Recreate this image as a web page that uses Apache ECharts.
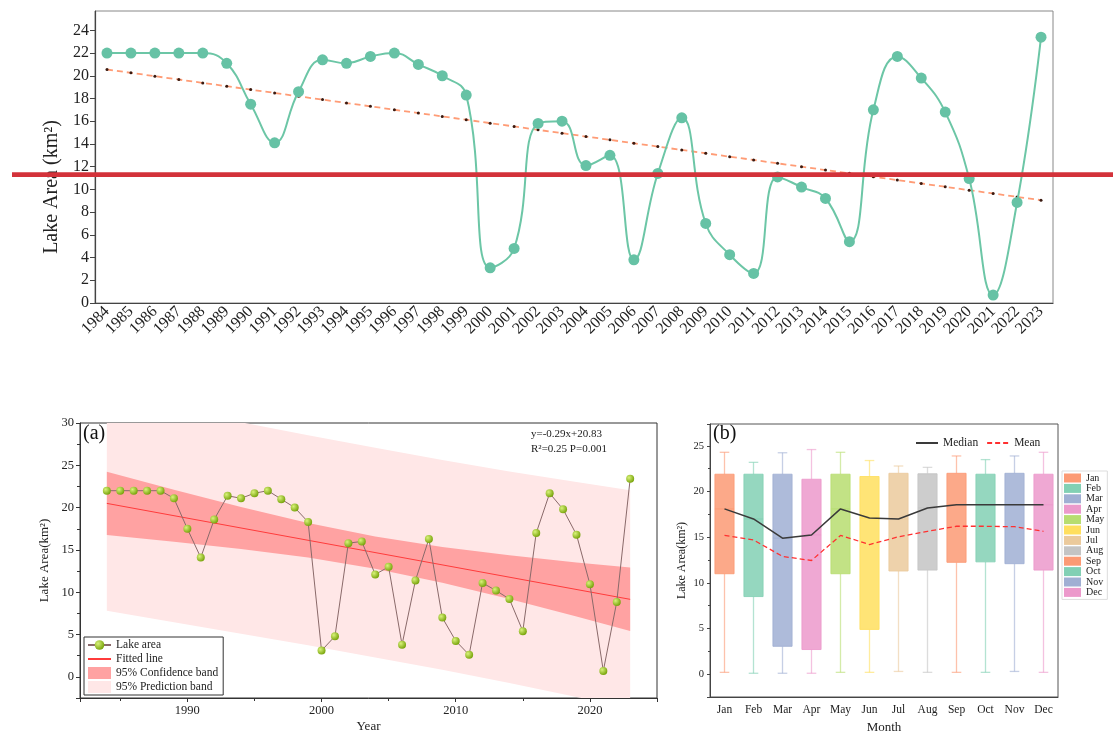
<!DOCTYPE html>
<html><head><meta charset="utf-8">
<script src="https://cdn.jsdelivr.net/npm/echarts@6/dist/echarts.min.js"></script>
<style>html,body{margin:0;padding:0;background:#fff}#c{width:1113px;height:735px}</style>
</head><body><div id="c"></div>
<script>
const years = ['1984','1985','1986','1987','1988','1989','1990','1991','1992','1993','1994','1995','1996','1997','1998','1999','2000','2001','2002','2003','2004','2005','2006','2007','2008','2009','2010','2011','2012','2013','2014','2015','2016','2017','2018','2019','2020','2021','2022','2023'];
const area = [22.0,22.0,22.0,22.0,22.0,21.1,17.5,14.1,18.6,21.4,21.1,21.7,22.0,21.0,20.0,18.3,3.1,4.8,15.8,16.0,12.1,13.0,3.8,11.4,16.3,7.0,4.25,2.6,11.1,10.2,9.2,5.4,17.0,21.7,19.8,16.8,10.95,0.7,8.85,23.4];
const trend = [20.55,20.26,19.96,19.67,19.37,19.08,18.78,18.49,18.19,17.90,17.60,17.31,17.01,16.72,16.42,16.13,15.83,15.54,15.24,14.95,14.65,14.36,14.06,13.77,13.47,13.18,12.88,12.59,12.29,12.00,11.70,11.41,11.11,10.82,10.52,10.23,9.93,9.64,9.34,9.05];
const fitYears = [1984, 2023];
const fitValues = [20.5, 9.16];
const bandYears = [1984,1989,1994,1999,2004,2009,2014,2019,2023];
const confUpper = [24.25,22.12,20.07,18.19,16.59,15.35,14.37,13.52,12.91];
const confLower = [16.75,15.98,15.11,14.09,12.77,11.11,9.19,7.12,5.41];
const predUpper = [33.2,31.65,30.09,28.54,27.08,25.63,24.28,23.02,22.06];
const predLower = [7.8,6.45,5.09,3.74,2.28,0.83,-0.72,-2.38,-3.74];
const months = ['Jan','Feb','Mar','Apr','May','Jun','Jul','Aug','Sep','Oct','Nov','Dec'];
const boxMin = [0.2,0.1,0.1,0.1,0.2,0.2,0.3,0.2,0.2,0.2,0.3,0.2];
const boxQ1 = [11.0,8.5,3.05,2.7,11.0,4.9,11.3,11.4,12.25,12.3,12.1,11.4];
const boxMedian = [18.1,17.0,14.9,15.25,18.1,17.1,17.0,18.2,18.55,18.55,18.55,18.55];
const boxQ3 = [21.9,21.9,21.9,21.35,21.9,21.65,22.0,21.95,22.0,21.9,22.0,21.9];
const boxMax = [24.3,23.2,24.25,24.6,24.3,23.4,22.8,22.65,23.9,23.5,23.9,24.3];
const meanVals = [15.2,14.7,12.9,12.45,15.2,14.2,15.05,15.65,16.2,16.2,16.15,15.65];
const boxColors = ['#fc9a74','#82d0b4','#a0afd3','#ec99cb','#b7dd70','#ffdf5e','#ebca9c','#c4c4c4','#fc9a74','#82d0b4','#a0afd3','#ec99cb'];

const SERIF = '"Liberation Serif","Times New Roman",serif';
const chart = echarts.init(document.getElementById('c'), null, {renderer:'canvas'});

function bandRenderer(upper, lower){
  return function(params, api){
    if (params.dataIndex !== 0) return;
    const pts = [];
    for (let k=0;k<bandYears.length;k++) pts.push(api.coord([bandYears[k], upper[k]]));
    for (let k=bandYears.length-1;k>=0;k--) pts.push(api.coord([bandYears[k], lower[k]]));
    return {type:'polygon', shape:{points:pts}, style:{fill: api.visual('color')}};
  };
}
function boxRenderer(params, api){
  const i = api.value(0);
  const lo = api.coord([i, api.value(1)]);
  const q1 = api.coord([i, api.value(2)]);
  const md = api.coord([i, api.value(3)]);
  const q3 = api.coord([i, api.value(4)]);
  const hi = api.coord([i, api.value(5)]);
  const band = api.size([1,0])[0];
  const bw = band*0.66, cw = band*0.33;
  const x = lo[0];
  const c = api.visual('color');
  const ws = {stroke:c, lineWidth:1.3, opacity:0.6};
  return {type:'group', children:[
    {type:'line', shape:{x1:x,y1:hi[1],x2:x,y2:q3[1]}, style:ws},
    {type:'line', shape:{x1:x,y1:q1[1],x2:x,y2:lo[1]}, style:ws},
    {type:'line', shape:{x1:x-cw/2,y1:hi[1],x2:x+cw/2,y2:hi[1]}, style:ws},
    {type:'line', shape:{x1:x-cw/2,y1:lo[1],x2:x+cw/2,y2:lo[1]}, style:ws},
    {type:'rect', shape:{x:x-bw/2,y:q3[1],width:bw,height:q1[1]-q3[1]}, style:{fill:c, opacity:0.85, stroke:c, lineWidth:1}},
    {type:'line', shape:{x1:x-bw/2,y1:md[1],x2:x+bw/2,y2:md[1]}, style:{stroke:c, lineWidth:1, opacity:0.9}}
  ]};
}

const axisTxt = {fontFamily:SERIF, color:'#222'};
const monthSeries = months.map((m,i)=>({
  type:'custom', name:m, xAxisIndex:2, yAxisIndex:2,
  itemStyle:{color:boxColors[i]},
  data:[[i, boxMin[i], boxQ1[i], boxMedian[i], boxQ3[i], boxMax[i]]],
  encode:{x:0, y:[1,2,3,4,5]},
  renderItem: boxRenderer, z:2
}));
const hideSym = {opacity:0};

const option = {
  animation:false,
  backgroundColor:'#fff',
  grid:[
    {left:95, right:60, top:11, bottom:432, show:true, borderColor:'#888', borderWidth:1},
    {left:80, right:456, top:423, bottom:37, show:true, borderColor:'#333', borderWidth:1},
    {left:710, right:55, top:424, bottom:34, show:true, borderColor:'#555', borderWidth:1}
  ],
  xAxis:[
    {gridIndex:0, type:'category', data:years, boundaryGap:true,
     axisLine:{lineStyle:{color:'#444', width:1.2}},
     axisTick:{alignWithLabel:true, length:5, lineStyle:{color:'#444'}},
     axisLabel:{...axisTxt, fontSize:16, rotate:45, interval:0, margin:6}},
    {gridIndex:1, type:'value', min:1982, max:2025, splitNumber:5,
     name:'Year', nameLocation:'middle', nameGap:22, nameTextStyle:{...axisTxt, fontSize:13},
     axisLine:{onZero:false, lineStyle:{color:'#333'}}, axisTick:{length:4, lineStyle:{color:'#333'}},
     minorTick:{show:true, splitNumber:2, length:3, lineStyle:{color:'#333'}},
     splitLine:{show:false},
     axisLabel:{...axisTxt, fontSize:12.5, showMinLabel:false, showMaxLabel:false, margin:6, formatter:v=>String(v)}},
    {gridIndex:2, type:'category', data:months, boundaryGap:true,
     name:'Month', nameLocation:'middle', nameGap:24, nameTextStyle:{...axisTxt, fontSize:13},
     axisLine:{onZero:false, lineStyle:{color:'#444'}}, axisTick:{alignWithLabel:true, length:4, lineStyle:{color:'#444'}},
     axisLabel:{...axisTxt, fontSize:11.5, interval:0, margin:7}}
  ],
  yAxis:[
    {gridIndex:0, type:'value', min:0, max:25.7, interval:2,
     axisLine:{show:true, lineStyle:{color:'#444', width:1.2}},
     axisTick:{show:true, length:5, lineStyle:{color:'#444'}},
     splitLine:{show:false},
     axisLabel:{...axisTxt, fontSize:16, showMaxLabel:false, margin:6}},
    {gridIndex:1, type:'value', min:-2.5, max:30, splitNumber:6,
     name:'Lake Area(km\u00b2)', nameLocation:'middle', nameGap:27, nameTextStyle:{...axisTxt, fontSize:13},
     axisLine:{show:true, onZero:false, lineStyle:{color:'#333'}},
     axisTick:{show:true, length:4, lineStyle:{color:'#333'}},
     minorTick:{show:true, splitNumber:2, length:3, lineStyle:{color:'#333'}},
     splitLine:{show:false}, minorSplitLine:{show:false},
     axisLabel:{...axisTxt, fontSize:12.5, showMinLabel:false, margin:6}},
    {gridIndex:2, type:'value', min:-2.5, max:27.4, splitNumber:6,
     name:'Lake Area(km\u00b2)', nameLocation:'middle', nameGap:22, nameTextStyle:{...axisTxt, fontSize:12},
     axisLine:{show:true, onZero:false, lineStyle:{color:'#444'}},
     axisTick:{show:true, length:3, lineStyle:{color:'#444'}},
     minorTick:{show:true, splitNumber:2, length:2, lineStyle:{color:'#444'}},
     splitLine:{show:false},
     axisLabel:{...axisTxt, fontSize:10.5, showMinLabel:false, showMaxLabel:false, margin:6}}
  ],
  legend:[
    {data:['Lake area',{name:'Fitted line', itemStyle:hideSym},{name:'95% Confidence band', icon:'rect'},{name:'95% Prediction band', icon:'rect'}],
     orient:'vertical', left:84, top:637, itemWidth:23, itemHeight:12, itemGap:2,
     textStyle:{fontFamily:SERIF, fontSize:11.5, color:'#222'},
     borderColor:'#333', borderWidth:1, backgroundColor:'#fff', padding:[2,5,2,3]},
    {data:[{name:'Median', itemStyle:hideSym},{name:'Mean', itemStyle:hideSym}], orient:'horizontal', left:910, top:432, itemWidth:22, itemHeight:10, itemGap:8,
     textStyle:{fontFamily:SERIF, fontSize:11.5, color:'#222'}},
    {data:months.map(m=>({name:m, icon:'rect'})), orient:'vertical', left:1062, top:471,
     itemWidth:17, itemHeight:9, itemGap:0.4,
     textStyle:{fontFamily:SERIF, fontSize:10, lineHeight:10, color:'#222'},
     borderColor:'#ddd', borderWidth:1, padding:[2,3,2,2]}
  ],
  series:[
    {type:'line', name:'trend_top', xAxisIndex:0, yAxisIndex:0, data:trend,
     lineStyle:{color:'#ff9c76', width:1.8, type:[6,4]},
     symbol:'circle', symbolSize:3, itemStyle:{color:'#3a1a10'}, z:3},
    {type:'line', name:'area_top', xAxisIndex:0, yAxisIndex:0, data:area, smooth:0.45,
     lineStyle:{color:'#6cc6a6', width:2},
     symbol:'circle', symbolSize:11, itemStyle:{color:'#66c2a5'}, z:4},

    {type:'custom', name:'95% Prediction band', xAxisIndex:1, yAxisIndex:1, clip:true,
     itemStyle:{color:'#ffe7e7'},
     data:bandYears.map((y,k)=>[y, predUpper[k], predLower[k]]), encode:{x:0, y:[1,2]},
     renderItem:bandRenderer(predUpper, predLower), z:1},
    {type:'custom', name:'95% Confidence band', xAxisIndex:1, yAxisIndex:1, clip:true,
     itemStyle:{color:'#ffa2a2'},
     data:bandYears.map((y,k)=>[y, confUpper[k], confLower[k]]), encode:{x:0, y:[1,2]},
     renderItem:bandRenderer(confUpper, confLower), z:2},
    {type:'line', name:'Fitted line', xAxisIndex:1, yAxisIndex:1,
     data:fitYears.map((y,k)=>[y, fitValues[k]]), symbol:'none',
     lineStyle:{color:'#ff3b3b', width:1}, itemStyle:{color:'#ff3b3b'}, z:3},
    {type:'line', name:'Lake area', xAxisIndex:1, yAxisIndex:1,
     data:years.map((y,k)=>[Number(y), area[k]]),
     lineStyle:{color:'#8a6a6a', width:1},
     symbol:'circle', symbolSize:8,
     itemStyle:{color:{type:'radial', x:0.35, y:0.35, r:0.75, colorStops:[{offset:0,color:'#d9f27a'},{offset:1,color:'#6e9c00'}]}}, z:4},

    ...monthSeries,
    {type:'line', name:'Median', xAxisIndex:2, yAxisIndex:2, data:boxMedian, symbol:'none',
     lineStyle:{color:'#3a3a3a', width:1.5}, itemStyle:{color:'#3a3a3a'}, z:5},
    {type:'line', name:'Mean', xAxisIndex:2, yAxisIndex:2, data:meanVals, symbol:'none',
     lineStyle:{color:'#ff3030', width:1.3, type:[5,3]}, itemStyle:{color:'#ff3030'}, z:5}
  ],
  graphic:[
    {type:'text', x:52, y:187, rotation:Math.PI/2, z:10,
     style:{text:'Lake Area (km\u00b2)', font:'20px '+SERIF, fill:'#222', textAlign:'center', textVerticalAlign:'middle'}},
    {type:'text', left:83, top:424, z:10, style:{text:'(a)', font:'20px '+SERIF, fill:'#111'}},
    {type:'text', left:713, top:424, z:10, style:{text:'(b)', font:'20px '+SERIF, fill:'#111'}},
    {type:'text', left:531, top:427, z:10, style:{text:'y=-0.29x+20.83\nR\u00b2=0.25 P=0.001', font:'11px '+SERIF, fill:'#222', lineHeight:15}},
    {type:'rect', z:100, shape:{x:12, y:172.3, width:1101, height:4.6}, style:{fill:'#d3323a'}}
  ]
};
chart.setOption(option);
</script></body></html>
